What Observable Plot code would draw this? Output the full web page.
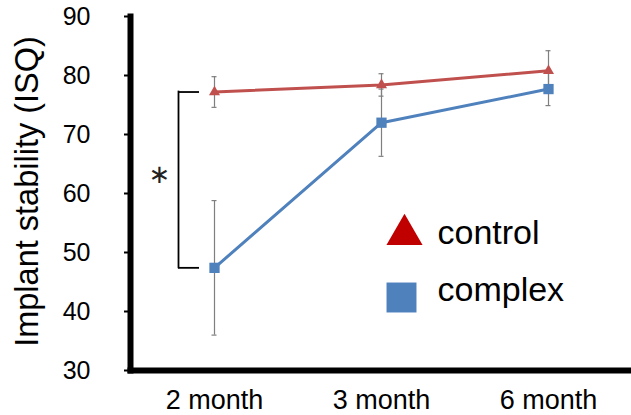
<!DOCTYPE html>
<html>
<head>
<meta charset="utf-8">
<script src="https://cdn.jsdelivr.net/npm/d3@7"></script>
<script src="https://cdn.jsdelivr.net/npm/@observablehq/plot@0.6"></script>
<style>
  html, body { margin: 0; padding: 0; background: #fff; }
</style>
</head>
<body>
<div id="chart"></div>
<script>
const months = ["2 month", "3 month", "6 month"];
const seriesNames = ["control", "complex"];
const controlMean = [77.2, 78.4, 80.8];
const controlErr = [2.6, 1.9, 3.4];
const complexMean = [47.4, 72.0, 77.7];
const complexErr = [11.4, 5.7, 2.8];
const yTicks = [30, 40, 50, 60, 70, 80, 90];
const yLabel = "Implant stability (ISQ)";
const lineColors = ["#c0504d", "#4f81bd"];
const legendColors = ["#c00000", "#4f81bd"];

const rows = [];
months.forEach((m, i) => {
  rows.push({month: m, series: "control", mean: controlMean[i], lo: controlMean[i] - controlErr[i], hi: controlMean[i] + controlErr[i]});
  rows.push({month: m, series: "complex", mean: complexMean[i], lo: complexMean[i] - complexErr[i], hi: complexMean[i] + complexErr[i]});
});
const bracket = [{month: months[0], top: controlMean[0], bottom: complexMean[0], mid: (controlMean[0] + complexMean[0]) / 2}];

const font = "'Liberation Sans', Arial, sans-serif";

const chart = Plot.plot({
  width: 631,
  height: 415,
  marginLeft: 130,
  marginRight: 0,
  marginTop: 16,
  marginBottom: 45,
  style: {fontFamily: font, background: "#fff", color: "#000"},
  x: {type: "point", domain: months, padding: 0.5, label: null},
  y: {domain: [30, 90], label: null},
  color: {domain: seriesNames, range: lineColors},
  symbol: {domain: seriesNames, range: ["triangle", "square"]},
  marks: [
    Plot.axisY({ticks: yTicks, tickSize: 6, tickPadding: 34, fontSize: 25, strokeWidth: 2, label: null}),
    Plot.axisX({tickSize: 0, tickPadding: 19, fontSize: 27, label: null}),
    Plot.text([yLabel], {frameAnchor: "left", rotate: -90, dx: -103, dy: -2, fontSize: 32.5, textAnchor: "middle", lineAnchor: "middle"}),
    // error bars
    Plot.ruleX(rows, {x: "month", y1: "lo", y2: "hi", stroke: "#7f7f7f", strokeWidth: 1.2}),
    Plot.ruleY(rows, {x1: "month", x2: "month", y: "hi", insetLeft: -2.5, insetRight: -2.5, stroke: "#7f7f7f", strokeWidth: 1.2}),
    Plot.ruleY(rows, {x1: "month", x2: "month", y: "lo", insetLeft: -2.5, insetRight: -2.5, stroke: "#7f7f7f", strokeWidth: 1.2}),
    // lines
    Plot.line(rows, {x: "month", y: "mean", z: "series", stroke: "series", strokeWidth: 3}),
    Plot.dot(rows, {filter: d => d.series === "control", x: "month", y: "mean", symbol: "series", fill: "series", r: 4.1}),
    Plot.dot(rows, {filter: d => d.series === "complex", x: "month", y: "mean", symbol: "series", fill: "series", r: 5.8}),
    // significance bracket
    Plot.ruleX(bracket, {x: "month", y1: "bottom", y2: "top", dx: -36, stroke: "#000", strokeWidth: 1.8, strokeLinecap: "square"}),
    Plot.ruleY(bracket, {x1: "month", x2: "month", y: "top", insetLeft: -36, insetRight: 15, stroke: "#000", strokeWidth: 1.8}),
    Plot.ruleY(bracket, {x1: "month", x2: "month", y: "bottom", insetLeft: -36, insetRight: 15, stroke: "#000", strokeWidth: 1.8}),
    Plot.text(bracket, {x: "month", y: "mid", text: () => "∗", dx: -55, dy: -5, fontSize: 26, fontFamily: "DejaVu Sans", fill: "#222"}),
    // axis lines
    Plot.frame({anchor: "left", stroke: "#000", strokeWidth: 6, strokeLinecap: "square"}),
    Plot.frame({anchor: "bottom", stroke: "#000", strokeWidth: 6, strokeLinecap: "square"}),
    // legend
    Plot.dot([seriesNames[0]], {frameAnchor: "top-left", dx: 274, dy: 218, symbol: "triangle", r: 13.4, fill: legendColors[0]}),
    Plot.dot([seriesNames[1]], {frameAnchor: "top-left", dx: 271, dy: 281, symbol: "square", r: 16.9, fill: legendColors[1]}),
    Plot.text([seriesNames[0]], {frameAnchor: "top-left", dx: 307, dy: 217, fontSize: 34, textAnchor: "start", lineAnchor: "middle"}),
    Plot.text([seriesNames[1]], {frameAnchor: "top-left", dx: 307, dy: 274, fontSize: 34, textAnchor: "start", lineAnchor: "middle"})
  ]
});
document.getElementById("chart").appendChild(chart);
</script>
</body>
</html>
